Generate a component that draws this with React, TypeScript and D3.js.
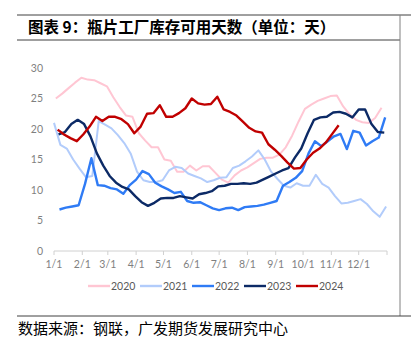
import React from 'react';
import * as d3 from 'd3';

/* ── Data (weekly, Friday readings) ─────────────────────────────── */
const monthLabels = ['1/1', '2/1', '3/1', '4/1', '5/1', '6/1', '7/1', '8/1', '9/1', '10/1', '11/1', '12/1'];
const monthStartDays = [0, 31, 59, 90, 120, 151, 181, 212, 243, 273, 304, 334];
const yTicks = [0, 5, 10, 15, 20, 25, 30];

const years = ['2020', '2021', '2022', '2023', '2024'];
const firstDay = [2, 0, 6, 5, 4]; // day-of-year of first weekly point

const v2020 = [25.0, 25.8, 26.7, 27.6, 28.4, 28.1, 28.0, 27.5, 27.0, 25.2, 23.6, 22.2, 22.0, 19.3, 18.1, 17.0, 17.0, 15.0, 14.8, 13.0, 13.0, 14.0, 13.2, 13.9, 13.9, 12.8, 11.7, 11.2, 12.4, 13.2, 13.7, 14.4, 15.1, 15.3, 15.3, 15.8, 17.0, 18.9, 21.2, 23.3, 24.0, 24.6, 25.0, 25.4, 25.5, 23.7, 22.4, 21.5, 21.1, 21.0, 21.8, 23.5];
const v2021 = [21.0, 17.4, 16.8, 15.0, 13.5, 12.1, 12.3, 21.3, 20.7, 20.1, 19.0, 17.7, 16.0, 13.0, 11.6, 11.3, 11.3, 11.6, 13.2, 13.8, 13.6, 12.7, 12.3, 11.9, 11.3, 11.6, 12.0, 12.1, 13.6, 14.0, 14.7, 15.5, 16.5, 15.0, 13.0, 11.8, 10.7, 10.4, 11.1, 10.7, 10.7, 12.5, 11.0, 10.4, 9.0, 7.8, 7.9, 8.2, 8.5, 7.7, 6.5, 5.6, 7.3];
const v2022 = [6.8, 7.1, 7.3, 7.5, 11.0, 15.2, 10.8, 10.7, 10.3, 10.1, 9.4, 10.8, 11.7, 13.1, 12.6, 11.2, 10.6, 10.1, 9.5, 9.7, 8.2, 7.9, 8.0, 7.5, 7.0, 6.7, 7.0, 7.1, 6.7, 7.2, 7.3, 7.4, 7.6, 7.9, 8.2, 10.7, 11.3, 12.0, 13.1, 16.0, 18.0, 17.2, 18.0, 18.8, 19.2, 16.7, 19.7, 19.4, 17.3, 18.0, 18.6, 21.9];
const v2023 = [19.1, 19.5, 20.8, 21.5, 20.8, 18.8, 16.0, 14.0, 12.3, 11.2, 10.5, 10.1, 9.0, 8.0, 7.4, 7.9, 8.6, 8.7, 8.7, 9.0, 8.8, 8.6, 9.3, 9.5, 9.8, 10.6, 10.7, 11.0, 11.0, 11.1, 11.0, 11.2, 11.7, 12.2, 12.7, 13.2, 13.6, 15.3, 16.8, 19.3, 21.5, 21.9, 22.0, 22.7, 22.8, 22.5, 21.9, 23.2, 23.2, 20.8, 19.5, 19.4];
const v2024 = [19.9, 19.1, 18.5, 18.0, 19.1, 20.4, 22.0, 21.3, 22.0, 22.0, 21.6, 20.8, 19.3, 20.4, 22.5, 22.6, 23.9, 22.0, 22.0, 22.6, 23.4, 25.0, 24.2, 24.0, 24.1, 25.3, 23.2, 22.8, 22.2, 21.2, 20.2, 19.6, 19.4, 17.5, 16.6, 15.6, 14.5, 13.5, 13.6, 15.0, 16.1, 16.8, 17.8, 19.2, 20.6];

const seriesValues = [v2020, v2021, v2022, v2023, v2024];
const colors = ['#FFC6D3', '#B2CCFB', '#2F7BF5', '#0C2A66', '#C00000'];
const widths = [2, 2, 2.4, 2.4, 2.4];

const W = 411;
const H = 350;
const FONT_CJK = '"Noto Sans CJK SC", sans-serif';
const FONT_NUM = 'Lato, "Liberation Sans", sans-serif';

export default function App() {
  const x = d3.scaleLinear().domain([0, 365]).range([54, 387]);
  const y = d3.scaleLinear().domain([0, 30]).range([251, 68]);

  return (
    <svg width={W} height={H} style={{ position: 'absolute', left: 0, top: 0, background: '#fff' }}>
      {/* frame + title */}
      <line x1={17} x2={W} y1={15} y2={15} stroke="#404040" strokeWidth={1} />
      <line x1={17} x2={400} y1={40} y2={40} stroke="#404040" strokeWidth={1} />
      <line x1={400} x2={400} y1={15} y2={316} stroke="#808080" strokeWidth={1} />
      <line x1={17} x2={W} y1={316} y2={316} stroke="#404040" strokeWidth={1} />
      <text x={28} y={33} fontFamily={FONT_CJK} fontWeight={700} fontSize={15.5} fill="#000">
        图表 9：瓶片工厂库存可用天数（单位：天）
      </text>

      {/* y labels (no axis line) */}
      {yTicks.map(t => (
        <text key={t} x={43} y={y(t)} dy="0.35em" textAnchor="end" fontFamily={FONT_NUM} fontSize={10.5} fill="#7f7f7f">
          {t}
        </text>
      ))}

      {/* x axis */}
      <line x1={x(0)} x2={x(365)} y1={y(0)} y2={y(0)} stroke="#d0d0d0" strokeWidth={1} />
      {[...monthStartDays, 365].map(d => (
        <line key={d} x1={x(d)} x2={x(d)} y1={y(0)} y2={y(0) + 4} stroke="#d0d0d0" strokeWidth={1} />
      ))}
      {monthLabels.map((m, i) => (
        <text key={m} x={x(monthStartDays[i])} y={268} textAnchor="middle" fontFamily={FONT_NUM} fontSize={10.5} fill="#7f7f7f">
          {m}
        </text>
      ))}

      {/* series */}
      {seriesValues.map((vals, s) => {
        const gen = d3
          .line<number>()
          .x((_, i) => x(firstDay[s] + 7 * i))
          .y(d => y(d));
        return (
          <path
            key={years[s]}
            d={gen(vals) || ''}
            fill="none"
            stroke={colors[s]}
            strokeWidth={widths[s]}
            strokeLinejoin="round"
          />
        );
      })}

      {/* legend */}
      {years.map((yr, i) => {
        const lx = 88 + i * 52;
        return (
          <g key={yr}>
            <line x1={lx} x2={lx + 22} y1={286} y2={286} stroke={colors[i]} strokeWidth={2.4} />
            <text x={lx + 23} y={286} dy="0.35em" fontFamily={FONT_NUM} fontSize={10.5} fill="#595959">
              {yr}
            </text>
          </g>
        );
      })}

      {/* source */}
      <text x={18} y={334} fontFamily={FONT_CJK} fontSize={15} fill="#000">
        数据来源：钢联，广发期货发展研究中心
      </text>
    </svg>
  );
}
